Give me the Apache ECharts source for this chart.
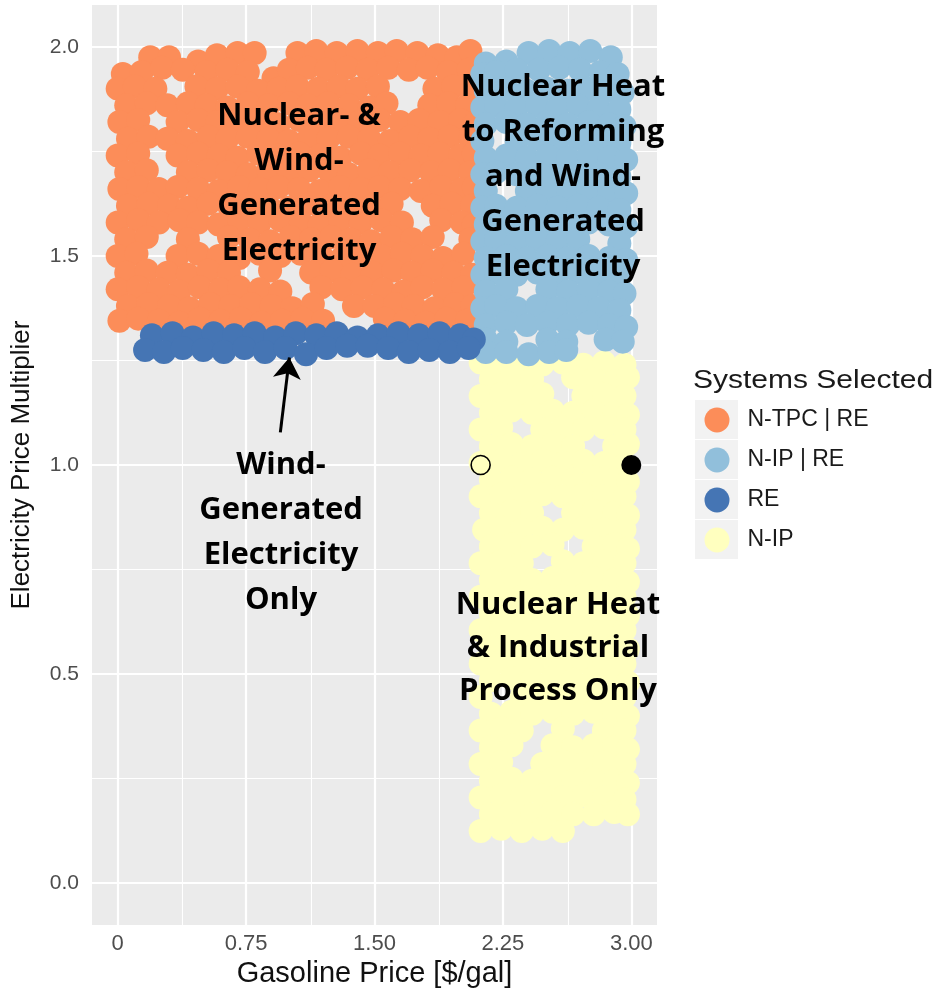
<!DOCTYPE html>
<html>
<head>
<meta charset="utf-8">
<script src="https://cdn.jsdelivr.net/npm/echarts@6/dist/echarts.min.js"></script>
<style>html,body{margin:0;padding:0;background:#fff}#c{width:940px;height:988px}</style>
</head>
<body>
<div id="c"></div>
<script>
// ---- tick values ----
const xMajor = [0, 0.75, 1.5, 2.25, 3.0];
const xMinor = [0.375, 1.125, 1.875, 2.625];
const yMajor = [0, 0.5, 1.0, 1.5, 2.0];
const yMinor = [0.25, 0.75, 1.25, 1.75];

const seriesNames = ['N-TPC | RE', 'N-IP | RE', 'RE', 'N-IP'];

// ---- N-TPC | RE (orange) ----
const nTpcRe = [
[0.19,1.975],[0.30,1.975],[0.47,1.965],[0.58,1.98],[0.70,1.985],[0.80,1.985],[1.05,1.985],[1.16,1.99],[1.28,1.985],[1.40,1.99],[1.52,1.985],[1.63,1.99],[1.75,1.985],[1.87,1.98],[1.98,1.975],[2.06,1.99],
[0.03,1.935],[0.14,1.94],[0.26,1.95],[0.38,1.945],[0.52,1.94],[0.64,1.945],[0.76,1.94],[0.91,1.925],[1.00,1.945],[1.11,1.95],[1.22,1.945],[1.34,1.95],[1.46,1.945],[1.58,1.95],[1.70,1.945],[1.81,1.95],[1.93,1.94],[2.05,1.945],
[0.00,1.90],[0.10,1.905],[0.22,1.90],[0.46,1.905],[0.58,1.90],[0.70,1.905],[0.82,1.895],[0.94,1.90],[1.05,1.905],[1.17,1.90],[1.29,1.905],[1.40,1.90],[1.52,1.905],[1.85,1.90],[1.96,1.905],[2.07,1.90],
[0.05,1.86],[0.17,1.865],[0.29,1.86],[0.41,1.865],[0.52,1.86],[0.64,1.855],[0.76,1.865],[0.88,1.86],[1.00,1.865],[1.11,1.86],[1.23,1.865],[1.35,1.86],[1.47,1.855],[1.57,1.865],[1.82,1.86],[1.93,1.865],[2.04,1.86],
[0.01,1.82],[0.12,1.825],[0.35,1.82],[0.47,1.825],[0.58,1.82],[0.70,1.825],[0.82,1.82],[0.94,1.815],[1.06,1.825],[1.17,1.82],[1.29,1.825],[1.41,1.82],[1.53,1.825],[1.65,1.82],[1.76,1.825],[1.88,1.82],[2.00,1.825],[2.08,1.815],
[0.06,1.78],[0.18,1.785],[0.29,1.78],[0.41,1.775],[0.53,1.785],[0.64,1.78],[0.76,1.785],[0.88,1.78],[1.00,1.775],[1.12,1.785],[1.23,1.78],[1.35,1.785],[1.47,1.78],[1.59,1.775],[1.71,1.785],[1.82,1.78],[1.94,1.785],[2.06,1.78],
[0.00,1.74],[0.12,1.745],[0.35,1.74],[0.47,1.745],[0.59,1.74],[0.70,1.735],[0.82,1.745],[0.94,1.74],[1.06,1.745],[1.18,1.74],[1.30,1.735],[1.42,1.745],[1.53,1.74],[1.65,1.745],[1.77,1.74],[1.88,1.745],[2.00,1.74],[2.08,1.745],
[0.05,1.70],[0.17,1.705],[0.41,1.70],[0.53,1.705],[0.64,1.70],[0.76,1.695],[0.88,1.705],[1.00,1.70],[1.12,1.705],[1.24,1.70],[1.35,1.695],[1.47,1.705],[1.59,1.70],[1.71,1.705],[1.83,1.70],[1.94,1.705],[2.06,1.70],
[0.01,1.66],[0.12,1.665],[0.24,1.66],[0.35,1.665],[0.47,1.66],[0.59,1.655],[0.71,1.665],[0.83,1.66],[0.94,1.665],[1.06,1.66],[1.18,1.655],[1.30,1.665],[1.42,1.66],[1.53,1.665],[1.65,1.66],[1.77,1.655],[1.89,1.665],[2.01,1.66],[2.08,1.665],
[0.06,1.62],[0.18,1.625],[0.30,1.62],[0.41,1.615],[0.53,1.625],[0.65,1.62],[0.77,1.625],[0.88,1.62],[1.00,1.615],[1.12,1.625],[1.24,1.62],[1.36,1.625],[1.48,1.62],[1.60,1.625],[1.84,1.62],[1.95,1.625],[2.07,1.62],
[0.00,1.58],[0.12,1.585],[0.24,1.58],[0.36,1.585],[0.47,1.58],[0.59,1.575],[0.71,1.585],[0.83,1.58],[0.95,1.585],[1.07,1.58],[1.18,1.575],[1.30,1.585],[1.42,1.58],[1.54,1.585],[1.66,1.58],[1.89,1.585],[2.01,1.58],[2.08,1.575],
[0.05,1.54],[0.17,1.545],[0.41,1.54],[0.65,1.545],[0.77,1.54],[0.89,1.535],[1.01,1.545],[1.13,1.54],[1.25,1.545],[1.36,1.54],[1.48,1.535],[1.60,1.545],[1.72,1.54],[1.84,1.545],[2.06,1.54],
[0.00,1.50],[0.11,1.505],[0.35,1.50],[0.47,1.505],[0.59,1.50],[0.71,1.495],[0.83,1.505],[0.95,1.50],[1.07,1.505],[1.19,1.50],[1.31,1.495],[1.42,1.505],[1.54,1.50],[1.66,1.505],[1.78,1.50],[1.90,1.495],[2.02,1.505],
[0.05,1.46],[0.17,1.465],[0.29,1.46],[0.41,1.455],[0.53,1.465],[0.65,1.46],[0.89,1.465],[1.13,1.46],[1.25,1.465],[1.37,1.455],[1.49,1.46],[1.61,1.465],[1.72,1.46],[1.84,1.465],[1.96,1.46],[2.07,1.455],
[0.00,1.42],[0.12,1.425],[0.24,1.42],[0.36,1.415],[0.48,1.425],[0.60,1.42],[0.71,1.425],[0.83,1.42],[0.95,1.415],[1.19,1.425],[1.31,1.42],[1.43,1.425],[1.55,1.42],[1.67,1.415],[1.78,1.425],[1.90,1.42],[2.02,1.425],
[0.06,1.38],[0.18,1.385],[0.30,1.38],[0.42,1.375],[0.54,1.385],[0.66,1.38],[0.78,1.385],[0.90,1.38],[1.02,1.375],[1.14,1.385],[1.38,1.38],[1.50,1.38],[1.62,1.385],[1.73,1.38],[1.85,1.375],[1.97,1.385],[2.07,1.38],
[0.01,1.345],[0.12,1.35],[0.24,1.345],[0.36,1.34],[0.48,1.35],[0.60,1.345],[0.72,1.35],[0.84,1.34],[0.96,1.345],[1.08,1.35],[1.20,1.345],[1.56,1.35],[1.68,1.345],[1.80,1.34],[1.92,1.35],[2.04,1.345]
];

// ---- RE (dark blue) ----
const re = [
[0.20,1.31],[0.32,1.315],[0.44,1.305],[0.56,1.315],[0.68,1.31],[0.80,1.315],[0.92,1.305],[1.04,1.315],[1.16,1.31],[1.28,1.315],[1.40,1.305],[1.52,1.31],[1.64,1.315],[1.76,1.31],[1.88,1.315],[2.00,1.31],[2.08,1.30],
[0.16,1.275],[0.27,1.27],[0.38,1.28],[0.50,1.275],[0.62,1.27],[0.74,1.28],[0.86,1.27],[0.98,1.28],[1.10,1.265],[1.22,1.28],[1.34,1.285],[1.46,1.285],[1.58,1.28],[1.70,1.27],[1.82,1.275],[1.94,1.27],[2.05,1.28]
];

// ---- N-IP | RE (light blue) ----
const nIpRe = [
[2.15,1.96],[2.27,1.965],[2.40,1.985],[2.52,1.99],[2.64,1.985],[2.76,1.99],[2.88,1.975],
[2.13,1.935],[2.21,1.94],[2.33,1.945],[2.46,1.945],[2.58,1.95],[2.70,1.945],[2.82,1.94],[2.92,1.935],
[2.15,1.895],[2.27,1.90],[2.39,1.895],[2.51,1.90],[2.63,1.895],[2.75,1.90],[2.87,1.895],[2.95,1.89],
[2.13,1.855],[2.21,1.86],[2.33,1.855],[2.45,1.86],[2.57,1.855],[2.69,1.86],[2.81,1.855],[2.93,1.85],
[2.15,1.815],[2.27,1.82],[2.39,1.815],[2.51,1.82],[2.63,1.815],[2.75,1.82],[2.87,1.815],[2.96,1.81],
[2.13,1.775],[2.33,1.775],[2.45,1.78],[2.57,1.775],[2.69,1.78],[2.81,1.775],[2.93,1.77],
[2.15,1.735],[2.27,1.74],[2.39,1.735],[2.51,1.74],[2.63,1.735],[2.75,1.74],[2.87,1.735],[2.97,1.73],
[2.13,1.695],[2.21,1.70],[2.33,1.695],[2.45,1.70],[2.57,1.695],[2.69,1.70],[2.81,1.695],[2.93,1.69],
[2.15,1.655],[2.39,1.655],[2.51,1.66],[2.63,1.655],[2.75,1.66],[2.87,1.655],[2.97,1.65],
[2.13,1.615],[2.21,1.62],[2.33,1.615],[2.45,1.62],[2.57,1.615],[2.69,1.62],[2.81,1.615],[2.93,1.61],
[2.15,1.575],[2.27,1.58],[2.39,1.575],[2.51,1.58],[2.63,1.575],[2.75,1.58],[2.87,1.575],[2.97,1.57],
[2.13,1.535],[2.21,1.54],[2.33,1.535],[2.45,1.54],[2.57,1.535],[2.69,1.54],[2.93,1.53],
[2.15,1.495],[2.27,1.50],[2.39,1.495],[2.51,1.50],[2.63,1.495],[2.75,1.50],[2.87,1.495],[2.97,1.49],
[2.13,1.455],[2.21,1.46],[2.33,1.455],[2.45,1.46],[2.57,1.455],[2.69,1.46],[2.81,1.455],[2.93,1.45],
[2.15,1.415],[2.27,1.42],[2.51,1.42],[2.63,1.415],[2.75,1.42],[2.87,1.415],[2.96,1.41],
[2.13,1.375],[2.21,1.38],[2.33,1.375],[2.45,1.38],[2.57,1.375],[2.69,1.38],[2.81,1.375],[2.93,1.37],
[2.15,1.335],[2.27,1.34],[2.39,1.335],[2.51,1.34],[2.63,1.335],[2.75,1.34],[2.87,1.335],[2.97,1.33],
[2.15,1.30],[2.27,1.295],[2.51,1.30],[2.62,1.295],[2.85,1.30],[2.95,1.295],
[2.15,1.27],[2.27,1.27],[2.40,1.265],[2.52,1.27],[2.62,1.275]
];

// ---- N-IP (yellow) ----
const nIp = [
[2.12,1.245],[2.24,1.24],[2.36,1.245],[2.48,1.24],[2.60,1.245],[2.72,1.24],[2.84,1.245],[2.96,1.24],
[2.18,1.205],[2.30,1.21],[2.42,1.205],[2.66,1.21],[2.78,1.205],[2.90,1.20],[2.98,1.21],
[2.12,1.165],[2.24,1.17],[2.36,1.165],[2.48,1.17],[2.72,1.165],[2.84,1.17],[2.96,1.165],
[2.18,1.125],[2.30,1.13],[2.42,1.125],[2.54,1.13],[2.66,1.125],[2.78,1.13],[2.90,1.125],[2.98,1.12],
[2.12,1.085],[2.24,1.09],[2.48,1.085],[2.60,1.09],[2.72,1.085],[2.84,1.09],[2.96,1.085],
[2.18,1.045],[2.30,1.05],[2.42,1.045],[2.54,1.05],[2.66,1.045],[2.90,1.045],[2.98,1.05],
[2.12,1.005],[2.24,1.01],[2.36,1.005],[2.48,1.01],[2.60,1.005],[2.72,1.01],[2.84,1.005],[2.96,1.0],
[2.18,0.965],[2.30,0.97],[2.42,0.965],[2.54,0.97],[2.66,0.965],[2.78,0.97],[2.90,0.965],[2.98,0.96],
[2.12,0.925],[2.24,0.93],[2.36,0.925],[2.48,0.93],[2.60,0.925],[2.72,0.93],[2.84,0.925],[2.96,0.925],
[2.18,0.885],[2.30,0.89],[2.42,0.885],[2.66,0.885],[2.78,0.89],[2.90,0.885],[2.98,0.88],
[2.14,0.845],[2.24,0.85],[2.36,0.845],[2.48,0.85],[2.60,0.845],[2.72,0.85],[2.84,0.845],[2.96,0.845],
[2.18,0.805],[2.30,0.81],[2.42,0.805],[2.54,0.81],[2.78,0.805],[2.90,0.81],[2.98,0.80],
[2.12,0.765],[2.24,0.77],[2.36,0.765],[2.60,0.77],[2.72,0.765],[2.84,0.77],[2.96,0.765],
[2.18,0.725],[2.30,0.73],[2.42,0.725],[2.54,0.73],[2.66,0.725],[2.78,0.73],[2.90,0.725],[2.98,0.72],
[2.12,0.685],[2.24,0.69],[2.36,0.685],[2.48,0.69],[2.60,0.685],[2.72,0.69],[2.84,0.685],[2.96,0.685],
[2.18,0.645],[2.30,0.65],[2.42,0.645],[2.54,0.65],[2.66,0.645],[2.78,0.65],[2.90,0.645],[2.98,0.64],
[2.12,0.605],[2.24,0.61],[2.36,0.605],[2.48,0.61],[2.60,0.605],[2.72,0.61],[2.84,0.605],[2.96,0.605],
[2.18,0.565],[2.30,0.57],[2.42,0.565],[2.54,0.57],[2.66,0.565],[2.78,0.57],[2.90,0.565],[2.98,0.56],
[2.12,0.525],[2.24,0.53],[2.36,0.525],[2.48,0.53],[2.60,0.525],[2.72,0.53],[2.84,0.525],[2.96,0.525],
[2.18,0.485],[2.30,0.49],[2.42,0.485],[2.54,0.49],[2.66,0.485],[2.78,0.49],[2.90,0.485],[2.98,0.48],
[2.12,0.445],[2.36,0.445],[2.48,0.45],[2.60,0.445],[2.72,0.45],[2.84,0.445],[2.96,0.445],
[2.18,0.405],[2.30,0.41],[2.42,0.405],[2.54,0.41],[2.66,0.405],[2.78,0.41],[2.90,0.405],[2.98,0.40],
[2.12,0.365],[2.24,0.37],[2.36,0.365],[2.60,0.37],[2.84,0.365],[2.96,0.365],
[2.18,0.325],[2.30,0.33],[2.54,0.33],[2.66,0.325],[2.78,0.33],[2.90,0.325],[2.98,0.32],
[2.12,0.285],[2.24,0.29],[2.48,0.285],[2.60,0.29],[2.72,0.285],[2.84,0.29],[2.96,0.285],
[2.18,0.245],[2.30,0.25],[2.42,0.245],[2.54,0.25],[2.66,0.245],[2.78,0.25],[2.90,0.245],[2.98,0.24],
[2.12,0.205],[2.24,0.21],[2.36,0.205],[2.48,0.21],[2.60,0.205],[2.72,0.21],[2.84,0.205],[2.96,0.20],
[2.18,0.165],[2.30,0.17],[2.42,0.165],[2.54,0.17],[2.66,0.165],[2.78,0.165],[2.90,0.17],[2.98,0.165],
[2.12,0.125],[2.24,0.13],[2.36,0.125],[2.48,0.13],[2.60,0.125]
];

// ---- reference points ----
const refOpen = [[2.12, 1.0]];
const refFilled = [[3.0, 1.0]];

// ---- annotation arrow (data coords: tail, tip) ----
const arrowTail = [0.95, 1.078];
const arrowTip = [1.003, 1.257];

const colors = { 'N-TPC | RE': '#FC8D59', 'N-IP | RE': '#91BFDB', 'RE': '#4575B4', 'N-IP': '#FFFFBF' };

const chart = echarts.init(document.getElementById('c'), null, { renderer: 'canvas' });

function pts(name, data, z) {
  return {
    type: 'scatter', name: name, data: data, symbol: 'circle', symbolSize: 24,
    itemStyle: { color: colors[name], opacity: 1 },
    emphasis: { disabled: true }, silent: true, z: z, animation: false
  };
}

const gridLines = []
  .concat(xMinor.map(v => ({ xAxis: v, lineStyle: { color: '#ffffff', width: 1.1, type: 'solid' } })))
  .concat(yMinor.map(v => ({ yAxis: v, lineStyle: { color: '#ffffff', width: 1.1, type: 'solid' } })))
  .concat(xMajor.map(v => ({ xAxis: v, lineStyle: { color: '#ffffff', width: 2.2, type: 'solid' } })))
  .concat(yMajor.map(v => ({ yAxis: v, lineStyle: { color: '#ffffff', width: 2.2, type: 'solid' } })));

const font = '"Liberation Sans", Arial, sans-serif';
const annFont = 'bold 31px "Open Sans", sans-serif';

const option = {
  animation: false,
  backgroundColor: '#ffffff',
  grid: { left: 92, top: 5, width: 565, height: 920, show: true, backgroundColor: '#EBEBEB', borderWidth: 0,
    containLabel: false, outerBoundsMode: 'none' },
  xAxis: {
    type: 'value', min: -0.15, max: 3.15,
    name: 'Gasoline Price [$/gal]', nameLocation: 'middle', nameGap: 33,
    nameTextStyle: { fontSize: 29, color: '#111', fontFamily: font },
    axisLine: { show: false },
    axisTick: { show: true, customValues: xMajor, length: 5, lineStyle: { color: '#333', width: 2 } },
    axisLabel: { show: true, customValues: xMajor, fontSize: 22, color: '#4d4d4d', fontFamily: font, margin: 8,
      formatter: v => (v === 0 ? '0' : v.toFixed(2)) },
    splitLine: { show: false }
  },
  yAxis: {
    type: 'value', min: -0.1, max: 2.1,
    name: 'Electricity Price Multiplier', nameLocation: 'middle', nameGap: 57,
    nameTextStyle: { fontSize: 26, color: '#111', fontFamily: font },
    axisLine: { show: false },
    axisTick: { show: true, customValues: yMajor, length: 6, lineStyle: { color: '#333', width: 2 } },
    axisLabel: { show: true, customValues: yMajor, fontSize: 21, color: '#4d4d4d', fontFamily: font, margin: 13,
      formatter: v => v.toFixed(1) },
    splitLine: { show: false }
  },
  legend: {
    data: seriesNames, orient: 'vertical', left: 704.5, top: 407.5, padding: 0,
    itemWidth: 25, itemHeight: 25, itemGap: 15, icon: 'circle', selectedMode: false,
    textStyle: { fontSize: 23, color: '#1a1a1a', fontFamily: font, padding: [0, 0, 0, 13] }
  },
  graphic: [
    { type: 'rect', z: 0, shape: { x: 695, y: 400, width: 43, height: 39 }, style: { fill: '#F2F2F2' } },
    { type: 'rect', z: 0, shape: { x: 695, y: 440, width: 43, height: 39 }, style: { fill: '#F2F2F2' } },
    { type: 'rect', z: 0, shape: { x: 695, y: 480, width: 43, height: 39 }, style: { fill: '#F2F2F2' } },
    { type: 'rect', z: 0, shape: { x: 695, y: 520, width: 43, height: 39 }, style: { fill: '#F2F2F2' } },
    { type: 'text', z: 10, x: 693, y: 381, scaleX: 1.2, style: { text: 'Systems Selected', font: '25px ' + font, fill: '#1a1a1a', textAlign: 'left', textVerticalAlign: 'middle' } },
    { type: 'text', z: 100, x: 299, y: 184, style: { text: 'Nuclear- &\nWind-\nGenerated\nElectricity', font: annFont, lineHeight: 45, fill: '#000', textAlign: 'center', textVerticalAlign: 'middle' } },
    { type: 'text', z: 100, x: 563, y: 177, style: { text: 'Nuclear Heat\nto Reforming\nand Wind-\nGenerated\nElectricity', font: annFont, lineHeight: 45, fill: '#000', textAlign: 'center', textVerticalAlign: 'middle' } },
    { type: 'text', z: 100, x: 281, y: 533, style: { text: 'Wind-\nGenerated\nElectricity\nOnly', font: annFont, lineHeight: 45, fill: '#000', textAlign: 'center', textVerticalAlign: 'middle' } },
    { type: 'text', z: 100, x: 558, y: 648, style: { text: 'Nuclear Heat\n& Industrial\nProcess Only', font: annFont, lineHeight: 43, fill: '#000', textAlign: 'center', textVerticalAlign: 'middle' } }
  ],
  series: [
    { type: 'scatter', name: '_grid', data: [], silent: true, z: 1,
      markLine: { silent: true, z: 1, symbol: ['none', 'none'], label: { show: false }, animation: false, data: gridLines } },
    pts('N-TPC | RE', nTpcRe, 2),
    pts('N-IP', nIp, 2),
    pts('N-IP | RE', nIpRe, 2),
    pts('RE', re, 2),
    { type: 'scatter', name: '_open', data: refOpen, symbol: 'circle', symbolSize: 19, silent: true, z: 5,
      itemStyle: { color: 'rgba(255,255,191,0)', borderColor: '#000', borderWidth: 1.6, opacity: 1 } },
    { type: 'scatter', name: '_filled', data: refFilled, symbol: 'circle', symbolSize: 20, silent: true, z: 5,
      itemStyle: { color: '#000', opacity: 1 } },
    { type: 'scatter', name: '_arrow', data: [], silent: true, z: 20,
      markLine: { silent: true, z: 20, symbol: ['none', 'arrow'], symbolSize: 21, label: { show: false }, animation: false,
        lineStyle: { color: '#000', width: 3, type: 'solid' },
        data: [[{ coord: arrowTail }, { coord: arrowTip }]] } }
  ]
};
chart.setOption(option);
</script>
</body>
</html>
